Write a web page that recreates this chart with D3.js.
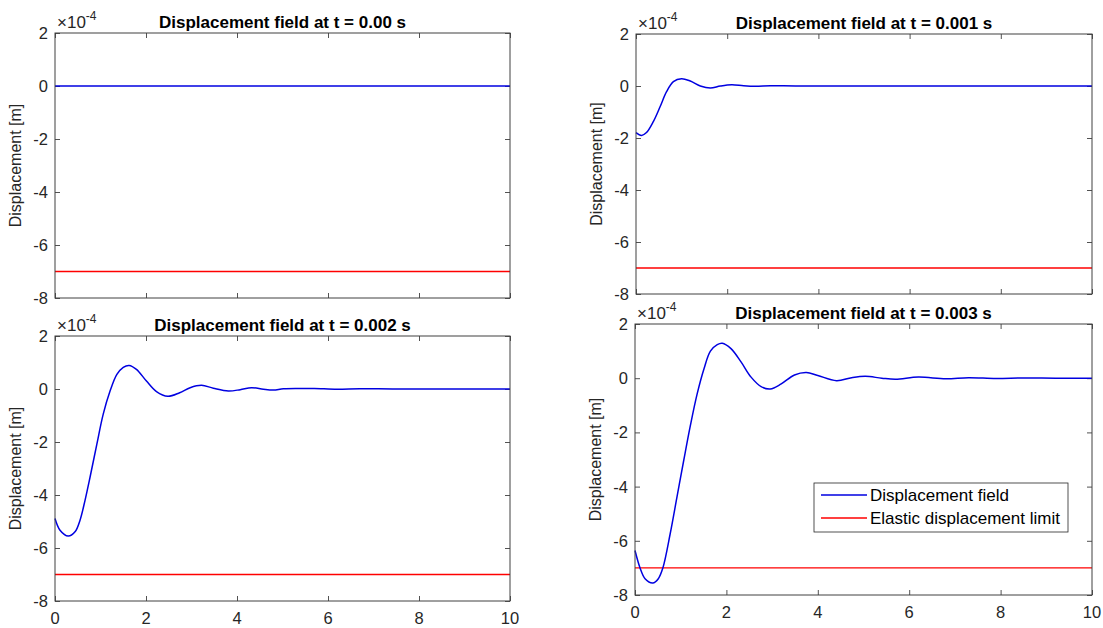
<!DOCTYPE html>
<html>
<head>
<meta charset="utf-8">
<script src="https://cdn.jsdelivr.net/npm/d3@7"></script>
<style>
  body { margin: 0; background: #fff; }
  svg { font-family: "Liberation Sans", Arial, sans-serif; }
</style>
</head>
<body>
<svg id="chart" width="1103" height="628"></svg>
<script>
// data (displacement in units of 1e-4 m, x in model units)
var xTicks = [0, 2, 4, 6, 8, 10];
var yTicks = [-8, -6, -4, -2, 0, 2];
var titles = ["Displacement field at t = 0.00 s", "Displacement field at t = 0.001 s",
              "Displacement field at t = 0.002 s", "Displacement field at t = 0.003 s"];
var limitValue = -7;
var legendLabels = ["Displacement field", "Elastic displacement limit"];

var x0 = [0, 2, 4, 6, 8, 10];
var u0 = [0, 0, 0, 0, 0, 0];

var x1 = [0, 0.12, 0.23, 0.38, 0.53, 0.67, 0.82, 1.0, 1.19, 1.41, 1.63, 1.85, 2.1, 2.36, 2.62, 2.95, 3.5, 5, 7, 10];
var u1 = [-1.79, -1.9, -1.79, -1.37, -0.79, -0.22, 0.17, 0.28, 0.19, 0, -0.08, 0, 0.05, 0.01, -0.01, 0.01, 0, 0, 0, 0];

var x2 = [0, 0.11, 0.29, 0.44, 0.55, 0.66, 0.77, 0.92, 1.06, 1.21, 1.36, 1.5, 1.63, 1.79, 2.01, 2.23, 2.48,
          2.74, 2.97, 3.22, 3.48, 3.81, 4.07, 4.32, 4.58, 4.8, 5.02, 5.4, 5.7, 6.2, 6.7, 7.5, 10];
var u2 = [-4.89, -5.33, -5.55, -5.39, -4.95, -4.2, -3.33, -2.08, -0.95, -0.08, 0.55, 0.82, 0.89, 0.74, 0.3, -0.1, -0.275,
          -0.14, 0.05, 0.14, 0.03, -0.075, -0.025, 0.05, -0.01, -0.04, 0.01, 0.02, 0.02, -0.01, 0.01, 0, 0];

var x3 = [0, 0.11, 0.22, 0.39, 0.51, 0.61, 0.77, 0.92, 1.07, 1.21, 1.36, 1.51, 1.65, 1.8, 1.91, 2.1, 2.32,
          2.54, 2.76, 2.96, 3.2, 3.49, 3.75, 4.0, 4.41, 4.74, 5.04, 5.4, 5.7, 6.2, 6.8, 7.3, 7.9, 8.5, 9.2, 10];
var u3 = [-6.36, -7.0, -7.4, -7.56, -7.4, -7.0, -5.74, -4.37, -3.0, -1.76, -0.58, 0.35, 1.0, 1.24, 1.29, 1.09, 0.6,
          0.04, -0.31, -0.4, -0.21, 0.12, 0.21, 0.1, -0.09, 0.02, 0.07, 0, -0.04, 0.04, -0.02, 0.02, -0.01, 0.01, 0, 0];

var series = [[x0, u0], [x1, u1], [x2, u2], [x3, u3]];

// axes boxes (pixels)
var panels = [
  {left: 55,  right: 510,  top: 33,  bottom: 298, xlabels: false},
  {left: 636, right: 1092, top: 34,  bottom: 294, xlabels: false},
  {left: 55,  right: 510,  top: 336, bottom: 601, xlabels: true},
  {left: 635, right: 1092, top: 324, bottom: 595, xlabels: true, legend: true}
];

var svg = d3.select("#chart");
var ink = "#262626";

panels.forEach(function(p, i) {
  var x = d3.scaleLinear().domain([0, 10]).range([p.left, p.right]);
  var y = d3.scaleLinear().domain([-8, 2]).range([p.bottom, p.top]);
  var g = svg.append("g");
  var h = p.bottom - p.top, w = p.right - p.left;

  // inward ticks on all four sides
  g.append("g").attr("transform", "translate(0," + p.bottom + ")")
    .call(d3.axisTop(x).tickValues(xTicks).tickSize(5).tickFormat(""));
  g.append("g").attr("transform", "translate(0," + p.top + ")")
    .call(d3.axisBottom(x).tickValues(xTicks).tickSize(5).tickFormat(""));
  g.append("g").attr("transform", "translate(" + p.left + ",0)")
    .call(d3.axisRight(y).tickValues(yTicks).tickSize(5).tickFormat(""));
  g.append("g").attr("transform", "translate(" + p.right + ",0)")
    .call(d3.axisLeft(y).tickValues(yTicks).tickSize(5).tickFormat(""));
  g.selectAll(".domain").remove();
  g.selectAll(".tick line").attr("stroke", ink).attr("stroke-width", 0.8);

  // tick labels
  g.selectAll(".ylab").data(yTicks).enter().append("text")
    .attr("x", p.left - 7).attr("y", function(d) { return y(d); })
    .attr("dy", "0.36em").attr("text-anchor", "end")
    .attr("font-size", 16.5).attr("fill", ink)
    .text(function(d) { return d; });
  if (p.xlabels) {
    g.selectAll(".xlab").data(xTicks).enter().append("text")
      .attr("x", function(d) { return x(d); }).attr("y", p.bottom + 23)
      .attr("text-anchor", "middle")
      .attr("font-size", 16.5).attr("fill", ink)
      .text(function(d) { return d; });
  }

  // exponent label
  var ex = g.append("text").attr("x", p.left + 2).attr("y", p.top - 5)
    .attr("font-size", 17).attr("fill", ink);
  ex.append("tspan").text("\u00d710");
  ex.append("tspan").attr("font-size", 12).attr("dy", -8).text("-4");

  // title
  g.append("text").attr("x", (p.left + p.right) / 2).attr("y", p.top - 5)
    .attr("text-anchor", "middle").attr("font-size", 17).attr("font-weight", "bold")
    .attr("fill", "#000").text(titles[i]);

  // y label
  g.append("text")
    .attr("transform", "translate(" + (p.left - 34) + "," + ((p.top + p.bottom) / 2) + ") rotate(-90)")
    .attr("text-anchor", "middle").attr("font-size", 16).attr("fill", ink)
    .text("Displacement [m]");

  // elastic limit
  g.append("path")
    .attr("d", d3.line()([[x(0), y(limitValue)], [x(10), y(limitValue)]]))
    .attr("stroke", "#ff0000").attr("stroke-width", 1.3).attr("fill", "none");

  // displacement curve
  var pts = series[i][0].map(function(t, k) { return [t, series[i][1][k]]; });
  var line = d3.line()
    .x(function(d) { return x(d[0]); })
    .y(function(d) { return y(d[1]); })
    .curve(d3.curveCatmullRom.alpha(0.5));
  g.append("path").datum(pts).attr("d", line)
    .attr("stroke", "#0000e0").attr("stroke-width", 1.5).attr("fill", "none");

  // box
  g.append("rect").attr("x", p.left).attr("y", p.top).attr("width", w).attr("height", h)
    .attr("fill", "none").attr("stroke", "#404040").attr("stroke-width", 1);

  if (p.legend) {
    var lg = g.append("g").attr("transform", "translate(814,483)");
    lg.append("rect").attr("width", 254).attr("height", 49)
      .attr("fill", "#fff").attr("stroke", ink).attr("stroke-width", 0.8);
    var colors = ["#0000e0", "#ff0000"];
    legendLabels.forEach(function(lab, k) {
      var yy = 12 + k * 23;
      lg.append("line").attr("x1", 7).attr("x2", 53).attr("y1", yy).attr("y2", yy)
        .attr("stroke", colors[k]).attr("stroke-width", k === 0 ? 1.5 : 1.3);
      lg.append("text").attr("x", 56).attr("y", yy).attr("dy", "0.36em")
        .attr("font-size", 17).attr("fill", "#000").text(lab);
    });
  }
});
</script>
</body>
</html>
